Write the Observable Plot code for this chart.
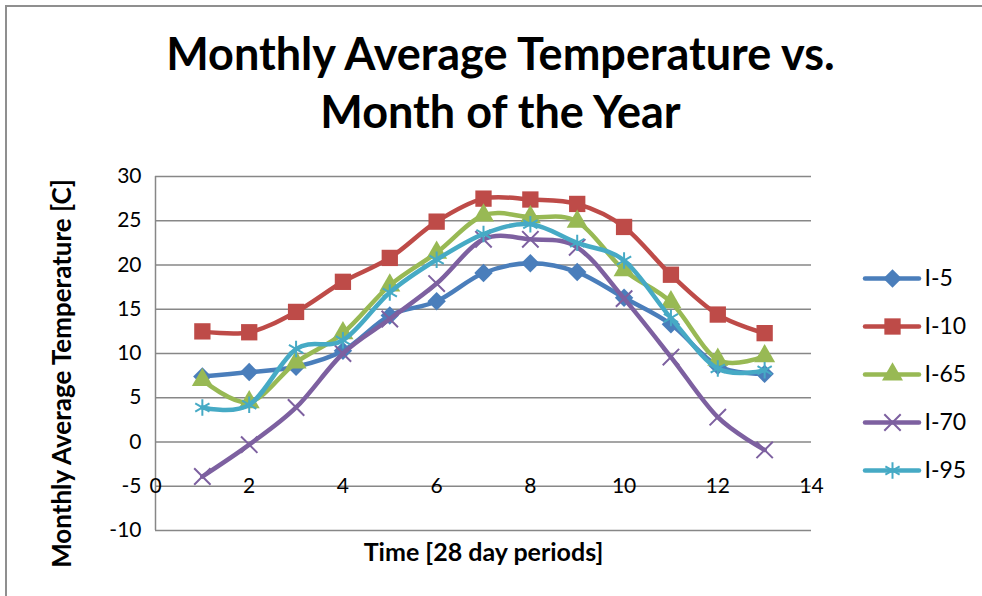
<!DOCTYPE html>
<html><head><meta charset="utf-8">
<script src="https://cdn.jsdelivr.net/npm/d3@7"></script>
<script src="https://cdn.jsdelivr.net/npm/@observablehq/plot@0.6"></script>
<style>
body{margin:0;background:#fff;}
#wrap{position:relative;width:982px;height:596px;overflow:hidden;background:#fff;}
#border{position:absolute;left:5px;top:5px;width:1100px;height:1100px;border:2px solid #8f8f8f;box-sizing:border-box}
#chart{position:absolute;left:0;top:0}
#legend{position:absolute;left:860px;top:250px}
</style></head><body>
<div id="wrap"><div id="border"></div><div id="chart"></div><div id="legend"></div></div>
<script>
// ---- data ----
const periods = [1, 2, 3, 4, 5, 6, 7, 8, 9, 10, 11, 12, 13];
const seriesNames = ["I-5", "I-10", "I-65", "I-70", "I-95"];
const i5  = [7.4, 7.9, 8.5, 10.3, 14.3, 15.9, 19.1, 20.2, 19.2, 16.3, 13.3, 8.6, 7.7];
const i10 = [12.5, 12.4, 14.7, 18.1, 20.8, 24.9, 27.5, 27.4, 26.9, 24.3, 18.9, 14.4, 12.3];
const i65 = [7.0, 4.5, 9.0, 12.3, 17.7, 21.4, 25.6, 25.4, 24.9, 19.4, 15.8, 9.3, 9.7];
const i70 = [-3.9, -0.3, 3.9, 10.0, 13.9, 17.9, 22.9, 22.9, 22.0, 16.2, 9.6, 2.8, -0.9];
const i95 = [3.9, 4.2, 10.5, 11.5, 16.9, 20.6, 23.5, 24.6, 22.5, 20.5, 14.0, 8.3, 8.1];
const yTicks = [-10, -5, 0, 5, 10, 15, 20, 25, 30];
const xTicks = [0, 2, 4, 6, 8, 10, 12, 14];
const xAxisCrossesAt = -5;
const titleText = "Monthly Average Temperature vs.\nMonth of the Year";
const xLabel = "Time [28 day periods]";
const yLabel = "Monthly Average Temperature [C]";

// ---- styles ----
const colors = ["#4A7EBB", "#BE4B48", "#98B954", "#7D60A0", "#46AAC5"];
const symbols = ["diamond2", "square", "triangle", "times", "asterisk"];
const symbolR = [8.3, 9.2, 7.8, 7.5, 7.8];
const strokeSymbols = new Set(["times", "asterisk"]);
const FONT = "Lato, 'Open Sans', sans-serif";

const values = [i5, i10, i65, i70, i95];
const rows = seriesNames.map((s, k) => periods.map((p, j) => ({series: s, period: p, temp: values[k][j]})));

function dotOpts(k, extra) {
  const sym = symbols[k];
  const o = {symbol: sym, r: symbolR[k], ...extra};
  if (strokeSymbols.has(sym)) { o.stroke = colors[k]; o.strokeWidth = 2; o.fill = "none"; }
  else { o.fill = colors[k]; o.stroke = "none"; }
  return o;
}

const seriesMarks = rows.flatMap((data, k) => [
  Plot.line(data, {x: "period", y: "temp", stroke: colors[k], strokeWidth: 4.5, curve: "cardinal"}),
  Plot.dot(data, dotOpts(k, {x: "period", y: "temp"}))
]);

const chart = Plot.plot({
  width: 982, height: 596,
  marginTop: 176, marginBottom: 66, marginLeft: 155, marginRight: 171,
  style: {fontFamily: FONT, fontSize: "21px", background: "transparent", color: "#000"},
  x: {domain: [0, 14], axis: null},
  y: {domain: [-10, 30], axis: null},
  marks: [
    Plot.ruleY(yTicks, {stroke: "#878787", strokeWidth: 1.5}),
    Plot.ruleX([0], {stroke: "#878787", strokeWidth: 1.5}),
    Plot.axisY({ticks: yTicks, tickSize: 0, tickPadding: 14, label: null, fontSize: 21, tickFormat: d => String(d)}),
    Plot.text(xTicks, {x: d => d, y: xTicks.map(() => xAxisCrossesAt), text: d => String(d), lineAnchor: "middle", fontSize: 21}),
    ...seriesMarks,
    Plot.text([titleText], {frameAnchor: "top", lineAnchor: "bottom", lineHeight: 1.27, dy: -49, dx: 17, fontSize: 45, fontWeight: "bold"}),
    Plot.text([xLabel], {frameAnchor: "bottom", lineAnchor: "top", dy: 13, fontSize: 25, fontWeight: "bold"}),
    Plot.text([yLabel], {frameAnchor: "left", textAnchor: "middle", rotate: -90, lineAnchor: "middle", dx: -93, dy: 20, fontSize: 26, fontWeight: "bold"})
  ]
});
document.getElementById("chart").appendChild(chart);

// ---- legend ----
const legendRows = seriesNames.map((s, k) => ({series: s, k}));
const legend = Plot.plot({
  width: 122, height: 247,
  marginTop: 27, marginBottom: 27, marginLeft: 5, marginRight: 63,
  style: {fontFamily: FONT, fontSize: "23px", background: "transparent", color: "#000"},
  x: {domain: [0, 1], axis: null},
  y: {type: "point", domain: seriesNames, padding: 0, axis: null},
  marks: [
    Plot.ruleY(legendRows, {y: "series", x1: 0, x2: 1, stroke: d => colors[d.k], strokeWidth: 4.5, strokeLinecap: "round"}),
    ...legendRows.map(d => Plot.dot([d], dotOpts(d.k, {x: () => 0.5, y: "series"}))),
    Plot.text(legendRows, {x: () => 1, y: "series", text: "series", textAnchor: "start", dx: 5, fontSize: 23})
  ]
});
document.getElementById("legend").appendChild(legend);
</script>
</body></html>
